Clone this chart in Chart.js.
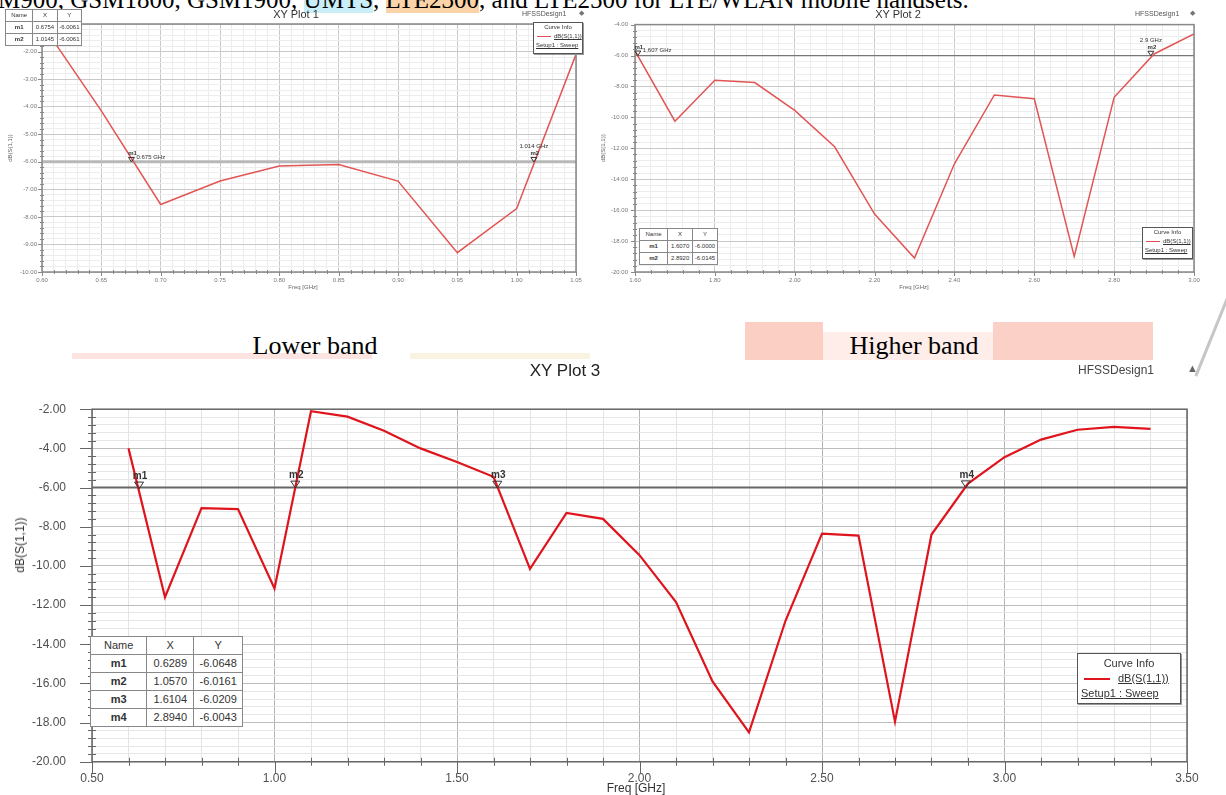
<!DOCTYPE html>
<html>
<head>
<meta charset="utf-8">
<script src="https://cdn.jsdelivr.net/npm/chart.js@4.4.1/dist/chart.umd.min.js"></script>
<style>
  body { margin: 0; width: 1226px; height: 795px; overflow: hidden; background: #fff; position: relative; font-family: "Liberation Sans", Arial, sans-serif; }
  .abs { position: absolute; white-space: nowrap; }
  .plot { position: absolute; }
  .doc { font-family: "Liberation Serif", "Times New Roman", serif; color: #000; }
  .ctr { transform: translate(-50%, -50%); }
  .rot { transform: translate(-50%, -50%) rotate(-90deg); }
  table.mk { position: absolute; border-collapse: collapse; background: #fff; border: 1px solid #444; table-layout: fixed; }
  table.mk td { border: 1px solid #888; text-align: center; padding: 0; color: #333; overflow: hidden; }
  table.mk td.n { font-weight: bold; }
  .info { position: absolute; background: #fff; border: 1px solid #555; box-shadow: 1px 1px 0 #999; color: #333; }
  .info .t { text-align: center; }
  .info .u { text-decoration: underline; }
  .pink { position: absolute; }
</style>
</head>
<body>

<!-- page background bits -->
<div class="pink" style="left:72px;top:353px;width:300px;height:6px;background:rgba(250,196,186,0.45)"></div>
<div class="pink" style="left:410px;top:353px;width:180px;height:6px;background:rgba(248,232,196,0.5)"></div>
<div class="pink" style="left:745px;top:322px;width:78px;height:38px;background:rgba(247,168,148,0.55)"></div>
<div class="pink" style="left:823px;top:332px;width:170px;height:28px;background:rgba(252,214,204,0.45)"></div>
<div class="pink" style="left:993px;top:322px;width:160px;height:38px;background:rgba(247,162,142,0.5)"></div>
<div class="pink" style="left:1214px;top:275px;width:3px;height:105px;background:rgba(160,160,160,0.6);transform:rotate(22deg)"></div>

<div class="abs doc" style="left:-2px;top:-13px;font-size:25px;line-height:25px">M900, GSM1800, GSM1900, <span style="background:#c9eef7">UMTS</span>, <span style="background:#fbd3a8">LTE2300</span>, and LTE2500 for LTE/WLAN mobile handsets.</div>

<div class="abs doc ctr" style="left:315px;top:346px;font-size:26px">Lower band</div>
<div class="abs doc ctr" style="left:914px;top:346px;font-size:26px">Higher band</div>

<!-- XY Plot 1 -->
<div class="plot" style="left:0px;top:14px;width:590px;height:278px"><canvas id="c1"></canvas></div>
<div class="abs ctr" style="left:296px;top:14px;font-size:11px;color:#333">XY Plot 1</div>
<div class="abs" style="left:522px;top:10px;font-size:7px;color:#555">HFSSDesign1</div>
<div class="abs" style="left:579px;top:9px;font-size:7px;color:#777">&#9670;</div>
<div class="abs rot" style="left:10px;top:148px;font-size:6px;color:#666">dB(S(1,1))</div>
<div class="abs ctr" style="left:303px;top:287px;font-size:6px;color:#666">Freq [GHz]</div>
<table class="mk" id="t1" style="left:5px;top:9px;width:77px;font-size:6px;line-height:11px"></table>
<div class="info" style="left:533px;top:22px;width:48px;height:30px;font-size:6px;line-height:9px">
  <div class="t">Curve Info</div>
  <div><span style="display:inline-block;width:14px;height:1px;background:#e05050;vertical-align:middle;margin:0 3px"></span><span class="u">dB(S(1,1))</span></div>
  <div class="u" style="padding-left:2px">Setup1 : Sweep</div>
</div>

<!-- XY Plot 2 -->
<div class="plot" style="left:595px;top:14px;width:620px;height:278px"><canvas id="c2"></canvas></div>
<div class="abs ctr" style="left:898px;top:14px;font-size:11px;color:#333">XY Plot 2</div>
<div class="abs" style="left:1135px;top:10px;font-size:7px;color:#555">HFSSDesign1</div>
<div class="abs" style="left:1190px;top:9px;font-size:7px;color:#777">&#9670;</div>
<div class="abs rot" style="left:603px;top:148px;font-size:6px;color:#666">dB(S(1,1))</div>
<div class="abs ctr" style="left:914px;top:287px;font-size:6px;color:#666">Freq [GHz]</div>
<table class="mk" id="t2" style="left:639px;top:228px;width:79px;font-size:6px;line-height:11px"></table>
<div class="info" style="left:1142px;top:227px;width:49px;height:30px;font-size:6px;line-height:9px">
  <div class="t">Curve Info</div>
  <div><span style="display:inline-block;width:14px;height:1px;background:#e05050;vertical-align:middle;margin:0 3px"></span><span class="u">dB(S(1,1))</span></div>
  <div class="u" style="padding-left:2px">Setup1 : Sweep</div>
</div>

<!-- XY Plot 3 -->
<div class="plot" style="left:0px;top:376px;width:1226px;height:419px"><canvas id="c3"></canvas></div>
<div class="abs ctr" style="left:565px;top:371px;font-size:17px;color:#222">XY Plot 3</div>
<div class="abs" style="left:1078px;top:363px;font-size:12px;color:#444">HFSSDesign1</div>
<div class="abs" style="left:1187px;top:362px;font-size:11px;color:#666">&#9650;</div>
<div class="abs rot" style="left:20px;top:545px;font-size:12px;color:#333">dB(S(1,1))</div>
<div class="abs ctr" style="left:636px;top:788px;font-size:12px;color:#333">Freq [GHz]</div>
<table class="mk" id="t3" style="left:90px;top:636px;width:153px;font-size:11px;line-height:17px"></table>
<div class="info" style="left:1077px;top:653px;width:102px;height:49px;font-size:11px;line-height:15px">
  <div class="t" style="margin-top:2px">Curve Info</div>
  <div><span style="display:inline-block;width:26px;height:2px;background:#e0141c;vertical-align:middle;margin:0 8px 0 6px"></span><span class="u">dB(S(1,1))</span></div>
  <div class="u" style="padding-left:3px">Setup1 : Sweep</div>
</div>

<script>
// ---- XY Plot 1 (lower band) ----
const freq1 = [0.60, 0.65, 0.70, 0.75, 0.80, 0.85, 0.90, 0.95, 1.00, 1.05];
const s11_1 = [-1.0, -4.15, -7.55, -6.7, -6.15, -6.1, -6.7, -9.3, -7.7, -2.1];
const markerNames1 = ['m1', 'm2'];
const markerFreq1 = [0.6754, 1.0145];
const markerDb1 = [-6.0061, -6.0061];
const markerTags1 = ['0.675 GHz', '1.014 GHz'];

// ---- XY Plot 2 (higher band) ----
const freq2 = [1.6, 1.7, 1.8, 1.9, 2.0, 2.1, 2.2, 2.3, 2.4, 2.5, 2.6, 2.7, 2.8, 2.9, 3.0];
const s11_2 = [-5.7, -10.25, -7.6, -7.75, -9.55, -11.9, -16.25, -19.1, -13.0, -8.55, -8.8, -19.0, -8.7, -5.9, -4.6];
const markerNames2 = ['m1', 'm2'];
const markerFreq2 = [1.6070, 2.8920];
const markerDb2 = [-6.0000, -6.0145];
const markerTags2 = ['1,607 GHz', '2.9 GHz'];

// ---- XY Plot 3 (full sweep) ----
const freq3 = [0.6, 0.7, 0.8, 0.9, 1.0, 1.1, 1.2, 1.3, 1.4, 1.5, 1.6, 1.7, 1.8, 1.9, 2.0,
               2.1, 2.2, 2.3, 2.4, 2.5, 2.6, 2.7, 2.8, 2.9, 3.0, 3.1, 3.2, 3.3, 3.4];
const s11_3 = [-4.0, -11.6, -7.05, -7.1, -11.15, -2.1, -2.38, -3.1, -4.0, -4.7, -5.45, -10.15, -7.3, -7.6, -9.45,
               -11.85, -15.9, -18.5, -12.8, -8.35, -8.45, -17.95, -8.4, -5.8, -4.45, -3.55, -3.05, -2.9, -3.0];
const markerNames3 = ['m1', 'm2', 'm3', 'm4'];
const markerFreq3 = [0.6289, 1.0570, 1.6104, 2.8940];
const markerDb3 = [-6.0648, -6.0161, -6.0209, -6.0043];

const refLevel = -6;

function ticksFrom(min, max, step) {
  const out = [];
  const n = Math.round((max - min) / step);
  for (let i = 0; i <= n; i++) out.push({ value: +(min + i * step).toFixed(6) });
  return out;
}
function isMajor(v, major) {
  const r = v / major;
  return Math.abs(r - Math.round(r)) < 1e-6;
}

function axis(min, max, major, minor, o) {
  return {
    type: 'linear', min: min, max: max,
    afterBuildTicks: s => { s.ticks = ticksFrom(min, max, minor); },
    afterFit: s => { if (s.isHorizontal()) s.height = o.size; else s.width = o.size; },
    grid: {
      drawTicks: false, lineWidth: 1,
      color: c => (c.tick && isMajor(c.tick.value, major)) ? o.majorGrid : o.minorGrid
    },
    border: { display: false },
    ticks: {
      autoSkip: false, maxRotation: 0, padding: o.pad, color: o.tickColor,
      font: { size: o.font, family: '"Liberation Sans", Arial, sans-serif' },
      callback: v => isMajor(v, major) ? v.toFixed(2) : ''
    }
  };
}

// frame, tick marks, -6 dB line and markers, HFSS style
const hfssPlugin = {
  id: 'hfss',
  beforeDatasetsDraw(chart, args, o) {
    const { ctx, chartArea: a, scales: { y } } = chart;
    const yy = y.getPixelForValue(o.refLevel);
    ctx.save();
    ctx.strokeStyle = o.refColor;
    ctx.lineWidth = o.refWidth;
    ctx.beginPath(); ctx.moveTo(a.left, yy); ctx.lineTo(a.right, yy); ctx.stroke();
    ctx.restore();
  },
  afterDatasetsDraw(chart, args, o) {
    const { ctx, chartArea: a, scales: { x, y } } = chart;
    ctx.save();
    ctx.strokeStyle = o.frameColor;
    ctx.lineWidth = o.frameWidth;
    ctx.strokeRect(a.left, a.top, a.right - a.left, a.bottom - a.top);

    ctx.lineWidth = 1;
    ctx.beginPath();
    x.ticks.forEach(t => {
      const px = Math.round(x.getPixelForValue(t.value)) + 0.5;
      if (isMajor(t.value, o.xMajor)) { ctx.moveTo(px, a.bottom); ctx.lineTo(px, a.bottom + o.tickMajor); }
      else { ctx.moveTo(px, a.bottom - o.tickMinor); ctx.lineTo(px, a.bottom + o.tickMinor); }
    });
    y.ticks.forEach(t => {
      const py = Math.round(y.getPixelForValue(t.value)) + 0.5;
      if (isMajor(t.value, o.yMajor)) { ctx.moveTo(a.left - o.tickMajor, py); ctx.lineTo(a.left, py); }
      else { ctx.moveTo(a.left - o.tickMinor, py); ctx.lineTo(a.left + o.tickMinor, py); }
    });
    ctx.stroke();

    // markers
    const s = o.markSize;
    o.names.forEach((nm, i) => {
      const px = x.getPixelForValue(o.mx[i]);
      const py = y.getPixelForValue(o.my[i]);
      ctx.strokeStyle = '#333';
      ctx.lineWidth = 1;
      ctx.beginPath();
      ctx.moveTo(px, py); ctx.lineTo(px - s, py - 1.5 * s); ctx.lineTo(px + s, py - 1.5 * s); ctx.closePath();
      ctx.stroke();
      ctx.fillStyle = '#333';
      ctx.textAlign = 'center';
      ctx.textBaseline = 'bottom';
      ctx.font = 'bold ' + o.markFont + 'px "Liberation Sans", Arial, sans-serif';
      ctx.fillText(nm, px + 1, py - 1.5 * s - 1);
      if (o.tags) {
        ctx.font = o.markFont + 'px "Liberation Sans", Arial, sans-serif';
        if (o.tagPos[i] === 'above') {
          ctx.textAlign = 'center';
          ctx.fillText(o.tags[i], px, py - 1.5 * s - o.markFont - 2);
        } else {
          ctx.textAlign = 'left';
          ctx.fillText(o.tags[i], px + s + 2, py - 2);
        }
      }
    });
    ctx.restore();
  }
};

function makePlot(id, cfg) {
  return new Chart(document.getElementById(id), {
    type: 'line',
    data: {
      datasets: [{
        data: cfg.xs.map((f, i) => ({ x: f, y: cfg.ys[i] })),
        borderColor: cfg.lineColor, borderWidth: cfg.lineWidth,
        pointRadius: 0, tension: 0, fill: false
      }]
    },
    options: {
      responsive: true, maintainAspectRatio: false, animation: false,
      layout: { padding: { top: cfg.padTop, right: cfg.padRight, left: 0, bottom: 0 } },
      plugins: {
        legend: { display: false },
        tooltip: { enabled: false },
        hfss: cfg.hfss
      },
      scales: { x: cfg.x, y: cfg.y }
    },
    plugins: [hfssPlugin]
  });
}

function fillTable(id, names, xs, ys, widths) {
  const t = document.getElementById(id);
  let h = '<colgroup>' + widths.map(w => '<col style="width:' + w + '%">').join('') + '</colgroup>';
  h += '<tr><td>Name</td><td>X</td><td>Y</td></tr>';
  names.forEach((n, i) => {
    h += '<tr><td class="n">' + n + '</td><td>' + xs[i].toFixed(4) + '</td><td>' + ys[i].toFixed(4) + '</td></tr>';
  });
  t.innerHTML = h;
}

const small = { tickColor: '#777', font: 6, majorGrid: '#c9c9c9', minorGrid: '#ededed' };

makePlot('c1', {
  xs: freq1, ys: s11_1, lineColor: '#e25555', lineWidth: 1.5, padTop: 10, padRight: 14,
  x: axis(0.60, 1.05, 0.05, 0.01, Object.assign({ size: 20, pad: 5 }, small)),
  y: axis(-10, -1, 1, 0.2, Object.assign({ size: 42, pad: 5 }, small)),
  hfss: { refLevel: refLevel, refColor: '#b8b8b8', refWidth: 3, frameColor: '#888', frameWidth: 1.5,
          xMajor: 0.05, yMajor: 1, tickMajor: 4, tickMinor: 2,
          names: markerNames1, mx: markerFreq1, my: markerDb1, tags: markerTags1, tagPos: ['right', 'above'],
          markSize: 3, markFont: 6 }
});

makePlot('c2', {
  xs: freq2, ys: s11_2, lineColor: '#e25555', lineWidth: 1.5, padTop: 10, padRight: 21,
  x: axis(1.6, 3.0, 0.2, 0.04, Object.assign({ size: 20, pad: 5 }, small)),
  y: axis(-20, -4, 2, 0.4, Object.assign({ size: 40, pad: 7 }, small)),
  hfss: { refLevel: refLevel, refColor: '#777', refWidth: 1.2, frameColor: '#888', frameWidth: 1.5,
          xMajor: 0.2, yMajor: 2, tickMajor: 4, tickMinor: 2,
          names: markerNames2, mx: markerFreq2, my: markerDb2, tags: markerTags2, tagPos: ['right', 'above'],
          markSize: 3, markFont: 6 }
});

makePlot('c3', {
  xs: freq3, ys: s11_3, lineColor: '#e0141c', lineWidth: 2.2, padTop: 10, padRight: 39,
  x: axis(0.5, 3.5, 0.5, 0.1, { size: 27, pad: 10, tickColor: '#505050', font: 12, majorGrid: '#b4b4b4', minorGrid: '#e3e3e3' }),
  y: axis(-20, -2, 2, 0.4, { size: 92, pad: 26, tickColor: '#505050', font: 12, majorGrid: '#bcbcbc', minorGrid: '#e6e6e6' }),
  hfss: { refLevel: refLevel, refColor: '#666', refWidth: 2, frameColor: '#666', frameWidth: 1.5,
          xMajor: 0.5, yMajor: 2, tickMajor: 12, tickMinor: 4,
          names: markerNames3, mx: markerFreq3, my: markerDb3, tags: null,
          markSize: 4.5, markFont: 10 }
});

fillTable('t1', markerNames1, markerFreq1, markerDb1, [36, 32, 32]);
fillTable('t2', markerNames2, markerFreq2, markerDb2, [36, 32, 32]);
fillTable('t3', markerNames3, markerFreq3, markerDb3, [37, 31, 32]);
</script>
</body>
</html>
